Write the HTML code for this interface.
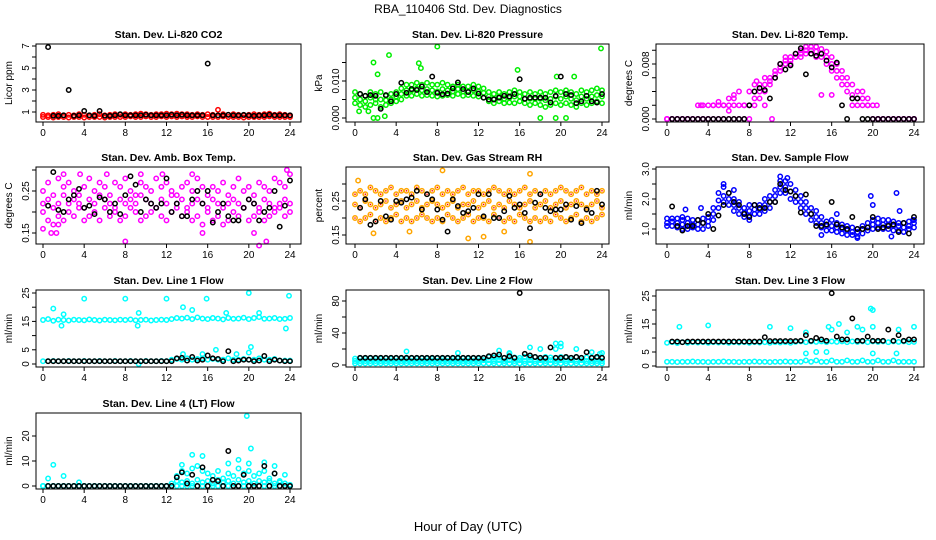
<!DOCTYPE html>
<html><head><meta charset="utf-8"><style>
html,body{margin:0;padding:0;background:#fff;}
svg{display:block;font-family:"Liberation Sans",sans-serif;}
</style></head><body>
<svg id="c" width="936" height="540" viewBox="0 0 936 540">
<text x="468" y="13" text-anchor="middle" font-size="12">RBA_110406  Std. Dev. Diagnostics</text>
<text x="468" y="531" text-anchor="middle" font-size="13">Hour of Day (UTC)</text>
</svg>
<script>
const xTicks=[0,4,8,12,16,20,24];
// CO2
const co2Black=[6.9,0.65,0.65,0.7,3.0,0.65,0.7,1.1,0.7,0.65,1.1,0.65,0.65,0.7,0.8,0.7,0.7,0.7,0.7,0.75,0.7,0.7,0.7,0.7,0.75,0.7,0.75,0.7,0.7,0.7,0.7,5.4,0.7,0.7,0.7,0.75,0.7,0.7,0.75,0.7,0.65,0.7,0.7,0.75,0.7,0.7,0.7,0.7];
const co2A=[0.75,0.7,0.75,0.8,0.7,0.75,0.7,0.8,0.75,0.7,0.75,0.8,0.7,0.75,0.8,0.75,0.8,0.75,0.8,0.85,0.8,0.75,0.8,0.8,0.85,0.8,0.85,0.8,0.8,0.75,0.8,0.75,0.8,0.75,1.2,0.8,0.75,0.8,0.75,0.7,0.75,0.8,0.75,0.8,0.85,0.75,0.8,0.75,0.7];
const co2B=[0.55,0.55,0.5,0.55,0.55,0.5,0.55,0.55,0.5,0.55,0.55,0.55,0.5,0.55,0.55,0.55,0.55,0.6,0.55,0.55,0.6,0.55,0.55,0.6,0.55,0.6,0.55,0.6,0.55,0.55,0.6,0.55,0.55,0.55,0.55,0.6,0.55,0.55,0.55,0.5,0.55,0.55,0.55,0.55,0.6,0.55,0.55,0.55,0.55];
const co2OutH=[], co2OutV=[];
// Pressure
const presBlack=[.0065,.006,.0062,.006,.0025,.0062,.0045,.0065,.0095,.0068,.0078,.0076,.0085,.0070,.0112,.0068,.0064,.0066,.0080,.0096,.0078,.0070,.0080,.0066,.0055,.0050,.0050,.0055,.0060,.0058,.0065,.0105,.0052,.0055,.0055,.0055,.0055,.0042,.0060,.0112,.0065,.0062,.0040,.0045,.0060,.0045,.0042,.0065];
const presA=[.007,.0065,.006,.007,.0065,.007,.006,.0065,.007,.008,.009,.009,.0095,.009,.0095,.009,.009,.0095,.009,.0085,.009,.0085,.0085,.009,.0085,.008,.007,.0065,.007,.0065,.007,.0075,.007,.0065,.007,.0065,.007,.0065,.007,.0075,.007,.0075,.007,.0065,.0075,.007,.0075,.008,.0075];
const presB=[.004,.0035,.003,.0035,.004,.003,.0035,.004,.0045,.005,.006,.006,.0065,.006,.0062,.006,.0058,.006,.0062,.006,.0065,.006,.0062,.006,.0058,.0055,.0045,.004,.0045,.004,.0042,.004,.0045,.004,.0035,.004,.0035,.003,.0035,.004,.0035,.004,.0035,.003,.004,.0035,.004,.0045,.004];
const presC=[.0055,.005,.0045,.0055,.005,.005,.0048,.005,.0058,.0065,.0075,.0075,.008,.0075,.0078,.0075,.0072,.0078,.0075,.0072,.0078,.0072,.0072,.0075,.0072,.0068,.0058,.0052,.0058,.0052,.0055,.0058,.0058,.0052,.0052,.0052,.0052,.0048,.0052,.0058,.0052,.0058,.0052,.0048,.0058,.0052,.0058,.0062,.0058];
const presOutH=[1.8,2.2,3.3,8.0,23.9,1.8,2.2,2.9,6.2,15.8,18,19.5,20.5,0.4,1.3,6.4,21.3,19.6];
const presOutV=[.0150,.0118,.0170,.0193,.0188,0,0,.0005,.0148,.0130,0,0,0,.0018,.0018,.0135,.0112,.0112];
// Temp
const tempBlack=[0,0,0,0,0,0,0,0,0,0,0,0,0,0,0,.002,.004,.0045,.0042,.003,.006,.008,.0072,.0078,.0095,.0103,.0065,.0095,.0092,.0095,.0085,.0075,.0082,.002,0,.003,.003,0,0,0,0,0,0,0,0,0,0,0];
const tempA=[0,0,0,0,0,0,.002,.002,.002,.002,.0025,.002,.003,.003,.004,.002,.004,.005,.005,.006,.006,.007,.008,.009,.009,.0095,.010,.0105,.0105,.0105,.0102,.0098,.009,.008,.007,.006,.005,.004,.004,.003,0,0,0,0,0,0,0,0,0];
const tempB=[0,0,0,0,0,0,0,0,0,.002,.002,.002,.002,.002,.002,.002,.002,.002,.003,.004,.005,.006,.007,.008,.008,.009,.009,.0095,.0095,.009,.009,.008,.007,.006,.005,.004,.002,.002,.002,.002,0,0,0,0,0,0,0,0,0];
const tempC=[0,0,0,0,0,0,0,0,0,0,0,0,0,0,0,0,0,.003,.004,.005,.0055,.0065,.0075,.0085,.0085,.009,.0095,.010,.010,.0098,.0095,.009,.008,.007,.006,.005,.0035,.003,.003,.002,.002,0,0,0,0,0,0,0,0];
const tempOutH=[3.3,6.0,6.5,8.7,9.5,10.2,15.0,16.0,20.4];
const tempOutV=[.002,.0012,.0035,.0055,.002,0,.0035,.0035,.002];
// Amb box temp
const ambBlack=[.215,.295,.205,.20,.23,.24,.255,.21,.215,.195,.235,.23,.20,.22,.195,.24,.285,.265,.20,.23,.22,.21,.22,.28,.20,.22,.19,.19,.23,.25,.22,.25,.175,.20,.22,.19,.18,.18,.21,.23,.22,.18,.20,.21,.25,.165,.215,.275];
const ambA=[.25,.27,.24,.28,.26,.27,.25,.24,.26,.28,.25,.27,.26,.24,.27,.26,.28,.25,.24,.27,.26,.25,.28,.26,.27,.25,.24,.26,.27,.25,.28,.26,.24,.26,.25,.27,.24,.26,.28,.25,.26,.24,.27,.26,.25,.28,.27,.26,.29];
const ambB=[.20,.18,.17,.19,.18,.20,.19,.21,.18,.19,.20,.18,.21,.19,.20,.18,.19,.21,.20,.18,.19,.20,.21,.19,.18,.20,.21,.19,.20,.18,.19,.17,.20,.18,.19,.17,.18,.20,.19,.21,.18,.19,.20,.18,.19,.20,.21,.19,.20];
const ambC=[.22,.23,.21,.22,.24,.22,.23,.22,.21,.23,.22,.24,.23,.22,.21,.23,.22,.23,.22,.24,.23,.22,.21,.23,.22,.24,.22,.23,.21,.22,.23,.22,.21,.23,.22,.21,.22,.23,.22,.21,.23,.22,.21,.23,.22,.21,.22,.23,.22];
const ambOutH=[0,0.8,1.3,1.5,3.6,2,8,15.5,20.5,21,21.7,23.7,9.5,6.2,11.6,14.5];
const ambOutV=[.16,.15,.15,.17,.29,.29,.13,.15,.15,.12,.13,.30,.29,.29,.29,.29];
// Gas stream RH
const rhBlack=[.23,.255,.18,.19,.25,.205,.195,.25,.245,.255,.26,.28,.225,.27,.255,.225,.195,.16,.255,.235,.215,.22,.23,.27,.205,.27,.20,.20,.22,.265,.23,.24,.215,.17,.245,.27,.23,.22,.225,.225,.24,.195,.235,.185,.225,.215,.28,.24];
const rhA=[.27,.28,.27,.29,.28,.27,.28,.29,.27,.28,.28,.27,.29,.28,.27,.28,.29,.27,.28,.27,.28,.29,.27,.28,.28,.27,.28,.29,.28,.27,.28,.27,.28,.29,.27,.28,.27,.28,.27,.28,.29,.28,.27,.28,.29,.27,.28,.27,.28];
const rhB=[.20,.19,.20,.21,.19,.20,.19,.20,.21,.19,.20,.19,.20,.21,.20,.19,.20,.19,.21,.20,.19,.20,.21,.19,.20,.20,.19,.21,.20,.19,.20,.19,.21,.20,.19,.20,.19,.20,.19,.21,.20,.19,.20,.21,.19,.20,.19,.20,.21];
const rhC=[.24,.23,.25,.24,.23,.24,.25,.23,.24,.25,.23,.24,.25,.23,.24,.25,.24,.23,.24,.25,.23,.24,.24,.25,.23,.24,.25,.23,.24,.23,.25,.24,.23,.24,.25,.23,.24,.25,.23,.24,.25,.23,.24,.25,.24,.23,.24,.25,.23];
const rhOutH=[0.3,8.5,17,1.8,5.3,11,17,12.5,14.5];
const rhOutV=[.31,.34,.33,.155,.16,.14,.13,.145,.16];
// Sample flow
const sfBlack=[1.75,1.1,0.95,1.1,1.1,1.3,1.2,1.5,1.0,1.45,1.8,2.2,1.9,1.8,1.5,1.4,1.8,1.7,1.7,1.9,1.9,2.5,2.3,2.25,2.1,1.55,2.15,1.5,1.1,1.1,1.15,1.9,1.15,1.05,1.0,1.4,1.0,1.0,1.05,1.4,1.0,1.05,1.1,1.15,0.9,1.2,0.85,1.4];
const sfA=[1.35,1.35,1.35,1.3,1.35,1.3,1.3,1.35,1.4,1.7,2.2,2.4,2.2,2.0,1.9,1.7,1.8,1.8,1.8,2.0,2.1,2.3,2.6,2.6,2.5,2.3,2.1,1.9,1.7,1.6,1.4,1.25,1.3,1.2,1.15,1.1,1.05,1.0,1.1,1.2,1.3,1.35,1.3,1.3,1.25,1.2,1.2,1.25,1.3];
const sfB=[1.1,1.1,1.05,1.0,1.0,1.05,1.0,1.0,1.1,1.3,1.7,1.9,1.8,1.6,1.5,1.4,1.45,1.5,1.5,1.6,1.7,1.9,2.2,2.2,2.0,1.9,1.7,1.5,1.3,1.2,1.05,0.95,0.95,0.9,0.85,0.8,0.8,0.75,0.85,0.95,1.0,1.05,1.0,1.0,0.95,0.95,0.9,1.0,1.05];
const sfC=[1.2,1.25,1.2,1.15,1.2,1.15,1.15,1.2,1.25,1.5,1.95,2.1,2.0,1.8,1.7,1.55,1.6,1.65,1.65,1.8,1.9,2.1,2.4,2.4,2.25,2.1,1.9,1.7,1.5,1.4,1.2,1.1,1.1,1.05,1.0,0.95,0.9,0.9,1.0,1.05,1.15,1.2,1.15,1.15,1.1,1.1,1.05,1.1,1.2];
const sfOutH=[1.5,1.8,3.3,5.5,6.5,8.0,11,11.7,15,16.5,19.8,20,22.3,22.6,21.8,18.5,23.9];
const sfOutV=[1.4,1.65,1.7,2.5,2.3,1.3,2.75,2.7,0.8,1.5,2.1,1.8,2.2,1.6,0.75,0.7,1.3];
// Line 1 flow
const l1Black=[1,1,1,1,1,1,1,1,1,1,1,1,1,1,1,1,1,1,1,1,1,1,1,1,1,2,2.2,1.2,2.5,1.2,1.5,3.0,2.0,1.8,1.0,4.5,1.0,1.2,1.5,1.5,1.0,1.2,2.8,1.0,1.5,1.2,1.0,1.0];
const l1A=[15.5,15.8,15.2,15.6,15.5,15.3,15.6,15.5,15.4,15.7,15.5,15.3,15.6,15.5,15.4,15.6,15.5,15.7,15.4,15.5,15.6,15.3,15.5,15.6,15.5,15.8,16.2,16.0,16.3,15.8,16.4,16.0,15.8,16.2,16.0,15.7,16.2,15.9,16.0,16.3,15.8,16.2,16.5,15.9,16.0,16.2,15.8,15.9,16.2];
const l1B=[1,1,1.1,1,1,1.1,1,1,1.1,1,1,1.1,1,1,1.1,1,1,1.1,1,1,1.1,1,1,1.1,1,1.5,1.8,1.5,2,1.5,1.8,2,1.5,1.8,1.5,1.5,2,1.5,1.5,1.8,1.5,1.5,2,1.5,1.5,1.8,1.2,1.2,1.2];
const l1OutH=[1,1.8,2,4,8,9.2,9.3,12,13.6,14.5,15.9,20,23.9,23.6,16.8,20.2,20,13.6,15.5,18.8,17.8,21,9.3];
const l1OutV=[19.5,13.5,17.5,23,23,13.5,18,23,20,19,23,25,24,12.5,5,6,4,3.5,3.5,3.5,18,18,0];
// Line 2 flow
const l2Black=[9,9,9,9,9,9,9,9,9,9,9,9,9,9,9,9,9,9,9,9,9,9,9,9,9,11,12,13,9,11,9,90,14,12,10,9,9,22,9,9,10,9,10,9,16,9,10,9];
const l2A=[8,8.5,8,8.5,8,8,8.5,8,8.5,8,8,8.5,8,8.5,8,8,8.5,8,8.5,8,8,8.5,8,8.5,8,9,10,9.5,10,9,10,9.5,9,10,9.5,10,9,10,9.5,9,10,9.5,9,10,9,9.5,9,9,9];
const l2B=[2,2,2,2,2,2,2,2,2,2,2,2,2,2,2,2,2,2,2,2,2,2,2,2,2,2,2,2,2,2,2,2,2,2,2,2,2,2,2,2,2,2,2,2,2,2,2,2,2];
const l2C=[5,5,5,5,5,5,5,5,5,5,5,5,5,5,5,5,5,5,5,5,5,5,5,5,5,6,6,5,6,5,6,5,6,5,6,5,6,5,6,5,6,5,6,5,6,5,5,5,5];
const l2OutH=[5,10,15,17,18,19.5,20,23.8,24,23,19.5,20,21.5,14,15];
const l2OutV=[17,15,15,22,20,20,23,14,15,16,27,27,20,18,14];
// Line 3 flow
const l3Black=[8.7,8.7,8.5,8.7,8.7,8.7,8.7,8.7,8.7,8.7,8.7,8.7,8.7,8.7,8.7,8.7,8.7,8.7,10.3,8.9,8.9,8.9,8.9,8.9,8.9,9,11,9,10,9.5,9,26,10.5,9.5,9.5,17,9,9,10.5,9,9,9,13,9,11,9,9.5,9.5];
const l3A=[8.3,8.5,8.2,8.5,8.3,8.5,8.4,8.5,8.3,8.5,8.4,8.5,8.3,8.5,8.4,8.5,8.3,8.5,8.4,8.5,8.3,8.5,8.4,8.5,8.3,8.6,8.8,8.5,8.8,8.6,8.8,8.5,8.8,8.6,8.8,8.5,8.8,8.6,8.8,8.5,8.8,8.6,8.8,8.5,8.8,8.6,8.8,8.5,8.6];
const l3B=[1.5,1.5,1.4,1.5,1.5,1.6,1.5,1.5,1.4,1.5,1.5,1.6,1.5,1.5,1.4,1.5,1.5,1.6,1.5,1.5,1.4,1.5,1.5,1.6,1.5,1.5,1.5,2,1.5,2,1.5,1.5,2,1.5,1.5,2,1.5,1.5,2,1.5,1.5,2,1.5,1.5,2,1.5,1.5,1.5,1.5];
const l3OutH=[1.2,4,10,12,13.5,13.5,14.5,15.5,15.7,16.7,17.5,18.5,19,19.8,20,20,20,22.3,22.5,24,16];
const l3OutV=[14,14.5,14,13.5,12,4.5,5,5,14,15,12,14,13,20.5,20,14,4.5,4.5,13,14,13];
// Line 4 flow
const l4Black=[0,0,0,0,0,0,0,0,0,0,0,0,0,0,0,0,0,0,0,0,0,0,0,0,0,3.5,5.5,1,4.5,0,7.5,0,2.5,2,0,14,0,0,4.5,0,0,0,8,0,5,0,0,0];
const l4A=[0,0,0,0,0,0,0,0,0,0,0,0,0,0,0,0,0,0,0,0,0,0,0,0,0,0,0,0,0,0,0,0,0,0,0,0,0,0,0,0,0,0,0,0,0,0,0,0,0];
const l4B=[0,0,0,0,0,0,0,0,0,0,0,0,0,0,0,0,0,0,0,0,0,0,0,0,0,1,2,1.5,2,1,2.5,1.5,2,1,2.5,1.5,2,1,2.5,1.5,2,1,2,1.5,2,1,1.5,1,0.5];
const l4C=[0,0,0,0,0,0,0,0,0,0,0,0,0,0,0,0,0,0,0,0,0,0,0,0,0,0,4,6,5,7,8,6,5,4,6,3,5,4,7,5,6,4,5,6,3,5,2,1,0];
const l4OutH=[0.5,1,2,3.5,14.5,15.5,18,19,19.8,20,20.2,21.5,22.5,23.5,13.5];
const l4OutV=[3,8.5,4,1.5,12.5,12,9,10.5,28,9,15,9.5,8,4.5,8.5];

const panels=[
 {name:'co2',title:'Stan. Dev. Li-820 CO2',ylab:'Licor ppm',color:'#ff0000',box:[36,44,301,122],x0:43,x24:290,ym:[1,112,7,46],ticks:[1,2,3,4,5,6,7],labels:[1,3,5,7],fmt:v=>String(v),series:[co2A,co2B],oh:co2OutH,ov:co2OutV,black:co2Black},
 {name:'pressure',title:'Stan. Dev. Li-820 Pressure',ylab:'kPa',color:'#00ee00',box:[346,44,609,122],x0:355,x24:602,ym:[0,118,0.01,81],ticks:[0,0.005,0.01,0.015],labels:[0,0.01],fmt:v=>v.toFixed(3),series:[presA,presB,presC],oh:presOutH,ov:presOutV,black:presBlack},
 {name:'temp',title:'Stan. Dev. Li-820 Temp.',ylab:'degrees C',color:'#ff00ff',box:[656,44,924,122],x0:667,x24:914,ym:[0,119,0.008,64],ticks:[0,0.002,0.004,0.006,0.008,0.01],labels:[0,0.008],fmt:v=>v.toFixed(3),series:[tempA,tempB,tempC],oh:tempOutH,ov:tempOutV,black:tempBlack},
 {name:'amb-temp',title:'Stan. Dev. Amb. Box Temp.',ylab:'degrees C',color:'#ff00ff',box:[36,167,301,244],x0:43,x24:290,ym:[0.15,233,0.25,191],ticks:[0.15,0.2,0.25,0.3],labels:[0.15,0.25],fmt:v=>v.toFixed(2),series:[ambA,ambB,ambC],oh:ambOutH,ov:ambOutV,black:ambBlack},
 {name:'gas-rh',title:'Stan. Dev. Gas Stream RH',ylab:'percent',color:'#ffa500',color2:'#ff0000',box:[346,167,609,244],x0:355,x24:602,ym:[0.15,235,0.25,201],ticks:[0.15,0.2,0.25,0.3],labels:[0.15,0.25],fmt:v=>v.toFixed(2),series:[rhA,rhB,rhC],oh:rhOutH,ov:rhOutV,black:rhBlack},
 {name:'sample-flow',title:'Stan. Dev. Sample Flow',ylab:'ml/min',color:'#0000ff',box:[656,167,924,244],x0:667,x24:914,ym:[1,229,3,169],ticks:[1,1.5,2,2.5,3],labels:[1,2,3],fmt:v=>v.toFixed(1),series:[sfA,sfB,sfC],oh:sfOutH,ov:sfOutV,black:sfBlack},
 {name:'line1-flow',title:'Stan. Dev. Line 1 Flow',ylab:'ml/min',color:'#00ffff',box:[36,290,301,367],x0:43,x24:290,ym:[0,364,25,293],ticks:[0,5,10,15,20,25],labels:[0,5,15,25],fmt:v=>String(v),series:[l1A,l1B],oh:l1OutH,ov:l1OutV,black:l1Black},
 {name:'line2-flow',title:'Stan. Dev. Line 2 Flow',ylab:'ml/min',color:'#00ffff',box:[346,290,609,367],x0:355,x24:602,ym:[0,365,80,301],ticks:[0,20,40,60,80],labels:[0,40,80],fmt:v=>String(v),series:[l2A,l2B,l2C],oh:l2OutH,ov:l2OutV,black:l2Black},
 {name:'line3-flow',title:'Stan. Dev. Line 3 Flow',ylab:'ml/min',color:'#00ffff',box:[656,290,924,367],x0:667,x24:914,ym:[0,366,25,296],ticks:[0,5,10,15,20,25],labels:[0,5,15,25],fmt:v=>String(v),series:[l3A,l3B],oh:l3OutH,ov:l3OutV,black:l3Black},
 {name:'line4-flow',title:'Stan. Dev. Line 4 (LT) Flow',ylab:'ml/min',color:'#00ffff',box:[36,413,301,489],x0:43,x24:290,ym:[0,486,20,436],ticks:[0,10,20],labels:[0,10,20],fmt:v=>String(v),series:[l4A,l4B,l4C],oh:l4OutH,ov:l4OutV,black:l4Black}
];
const NS='http://www.w3.org/2000/svg';
const svg=document.getElementById('c');
function mk(tag,attrs,parent){const e=document.createElementNS(NS,tag);for(const k in attrs)e.setAttribute(k,attrs[k]);parent.appendChild(e);return e;}
panels.forEach(p=>{
  const g=mk('g',{},svg);
  
  
  const [L,T,R,B]=p.box;
  const xs=h=>p.x0+h*(p.x24-p.x0)/24;
  const ys=v=>p.ym[1]+(v-p.ym[0])*(p.ym[3]-p.ym[1])/(p.ym[2]-p.ym[0]);
  const t=mk('text',{x:(L+R)/2,y:T-6,'text-anchor':'middle','font-size':'10.5','font-weight':'bold'},g);
  t.textContent=p.title;
  
  
  const pts=mk('g',{fill:'none','stroke-width':'1.5'},g);
  
  
  const dot=(h,v,col)=>{const c=mk('circle',{cx:xs(h).toFixed(1),cy:ys(v).toFixed(1),r:'2.2',stroke:col},pts);
    
    };
  p.series.forEach((arr,si)=>arr.forEach((v,i)=>{dot(i*0.5,v,p.color);}));
  p.oh.forEach((h,i)=>dot(h,p.ov[i],p.color));
  if(p.color2){p.series.forEach(arr=>arr.forEach((v,i)=>{const c=mk('circle',{cx:xs(i*0.5).toFixed(1),cy:ys(v).toFixed(1),r:'0.8',fill:p.color2},pts);
    
    }));}
  p.black.forEach((v,i)=>dot((i+1)*0.5,v,'#000'));
  const bx=mk('rect',{x:L,y:T,width:R-L,height:B-T,fill:'none',stroke:'#000','stroke-width':'1'},g);
  
  
  const ax=mk('g',{'font-size':'10'},g);
  
  
  xTicks.forEach(h=>{const x=xs(h);mk('line',{x1:x,y1:B,x2:x,y2:B+4,stroke:'#000'},ax);
    const tl=mk('text',{x:x,y:B+14,'text-anchor':'middle'},ax);tl.textContent=h;
    
    });
  p.ticks.forEach(v=>{const y=ys(v);mk('line',{x1:L,y1:y,x2:L-4,y2:y,stroke:'#000'},ax);});
  p.labels.forEach(v=>{const y=ys(v);const tl=mk('text',{x:L-7,y:y,'text-anchor':'middle',transform:`rotate(-90 ${L-7} ${y})`},ax);tl.textContent=p.fmt(v);
    
    });
  const yl=mk('text',{x:L-24,y:(T+B)/2,'text-anchor':'middle','font-size':'10',transform:`rotate(-90 ${L-24} ${(T+B)/2})`},g);
  yl.textContent=p.ylab;
  
  
});
</script>
</body></html>
